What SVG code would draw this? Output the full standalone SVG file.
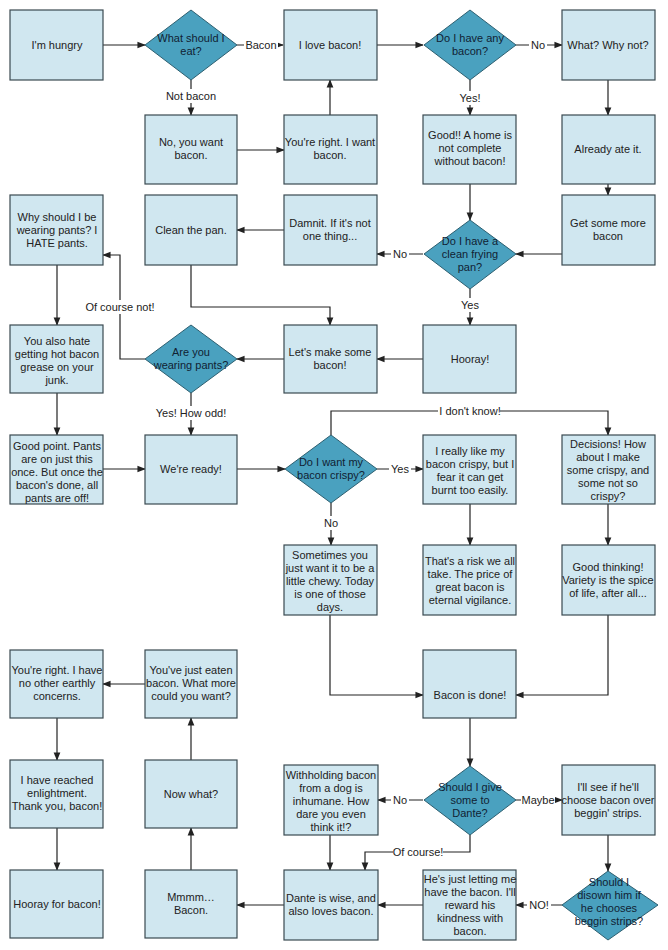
<svg xmlns="http://www.w3.org/2000/svg" width="668" height="950" viewBox="0 0 668 950">
<style>
.b{fill:#d0e7f0;stroke:#3a4a50;stroke-width:1.2}
.d{fill:#4aa1bf;stroke:#2d5f70;stroke-width:1}
text{font-family:"Liberation Sans",Arial,sans-serif;font-size:11px;fill:#222;text-anchor:middle}
.dt{fill:#123}
.c{fill:none;stroke:#222;stroke-width:1.2;marker-end:url(#a)}
.l{fill:#fff}
</style>
<defs><marker id="a" viewBox="0 0 10 10" refX="9" refY="5" markerWidth="7" markerHeight="7" orient="auto"><path d="M0,1 L10,5 L0,9 z" fill="#222"/></marker></defs>
<rect width="668" height="950" fill="#fff"/>
<g id="connectors">
<path class="c" d="M103,45H145"/>
<path class="c" d="M237,45H283"/>
<path class="c" d="M191,80V115"/>
<path class="c" d="M237,150H284"/>
<path class="c" d="M330,115V80"/>
<path class="c" d="M377,45H423"/>
<path class="c" d="M516,45H562"/>
<path class="c" d="M470,80V115"/>
<path class="c" d="M608,80V115"/>
<path class="c" d="M608,184V195"/>
<path class="c" d="M470,184V220"/>
<path class="c" d="M562,254H516"/>
<path class="c" d="M423,254H377"/>
<path class="c" d="M284,230H237"/>
<path class="c" d="M191,265V307H330V325"/>
<path class="c" d="M470,289V325"/>
<path class="c" d="M423,359H377"/>
<path class="c" d="M284,359H237"/>
<path class="c" d="M145,359H120V255H103"/>
<path class="c" d="M57,265V325"/>
<path class="c" d="M57,393V435"/>
<path class="c" d="M191,393V435"/>
<path class="c" d="M103,469H145"/>
<path class="c" d="M237,469H285"/>
<path class="c" d="M377,469H423"/>
<path class="c" d="M331,435V411H608V435"/>
<path class="c" d="M331,503V545"/>
<path class="c" d="M470,504V545"/>
<path class="c" d="M608,504V545"/>
<path class="c" d="M330,615V695H423"/>
<path class="c" d="M608,615V695H516"/>
<path class="c" d="M470,718V766"/>
<path class="c" d="M423,800H378"/>
<path class="c" d="M516,800H562"/>
<path class="c" d="M608,835V871"/>
<path class="c" d="M562,905H516"/>
<path class="c" d="M470,835V852H365V870"/>
<path class="c" d="M330,835V870"/>
<path class="c" d="M423,905H378"/>
<path class="c" d="M284,905H237"/>
<path class="c" d="M191,870V828"/>
<path class="c" d="M191,760V718"/>
<path class="c" d="M145,684H103"/>
<path class="c" d="M57,718V760"/>
<path class="c" d="M57,828V870"/>
<g>
<rect class="l" x="244" y="38" width="34" height="14"/><text x="261" y="49">Bacon</text>
<rect class="l" x="163" y="89" width="56" height="14"/><text x="191" y="100">Not bacon</text>
<rect class="l" x="529" y="38" width="18" height="14"/><text x="538" y="49">No</text>
<rect class="l" x="456" y="91" width="28" height="14"/><text x="470" y="102">Yes!</text>
<rect class="l" x="391" y="247" width="18" height="14"/><text x="400" y="258">No</text>
<rect class="l" x="459" y="298" width="22" height="14"/><text x="470" y="309">Yes</text>
<rect class="l" x="86" y="300" width="68" height="14"/><text x="120" y="311">Of course not!</text>
<rect class="l" x="155" y="406" width="72" height="14"/><text x="191" y="417">Yes! How odd!</text>
<rect class="l" x="438" y="404" width="62" height="14"/><text x="470" y="415">I don't know!</text>
<rect class="l" x="389" y="462" width="22" height="14"/><text x="400" y="473">Yes</text>
<rect class="l" x="321" y="516" width="20" height="14"/><text x="331" y="527">No</text>
<rect class="l" x="391" y="793" width="18" height="14"/><text x="400" y="804">No</text>
<rect class="l" x="521" y="793" width="34" height="14"/><text x="538" y="804">Maybe</text>
<rect class="l" x="393" y="845" width="50" height="14"/><text x="418" y="856">Of course!</text>
<rect class="l" x="527" y="898" width="24" height="14"/><text x="539" y="909">NO!</text>
</g>
</g>
<g id="n1"><rect class="b" x="10" y="10" width="93" height="70"/><text x="57" y="49">I'm hungry</text></g>
<g id="n2"><path class="d" d="M191,10L237,45L191,80L145,45Z"/><text class="dt" x="191" y="42">What should I</text><text class="dt" x="191" y="55">eat?</text></g>
<g id="n3"><rect class="b" x="284" y="10" width="93" height="70"/><text x="330" y="49">I love bacon!</text></g>
<g id="n4"><path class="d" d="M470,10L516,45L470,80L424,45Z"/><text class="dt" x="470" y="42">Do I have any</text><text class="dt" x="470" y="55">bacon?</text></g>
<g id="n5"><rect class="b" x="562" y="10" width="93" height="70"/><text x="608" y="49">What? Why not?</text></g>
<g id="n6"><rect class="b" x="145" y="115" width="92" height="69"/><text x="191" y="146">No, you want</text><text x="191" y="159">bacon.</text></g>
<g id="n7"><rect class="b" x="284" y="115" width="93" height="69"/><text x="330" y="146">You're right. I want</text><text x="330" y="159">bacon.</text></g>
<g id="n8"><rect class="b" x="423" y="115" width="93" height="69"/><text x="470" y="139">Good!! A home is</text><text x="470" y="152">not complete</text><text x="470" y="165">without bacon!</text></g>
<g id="n9"><rect class="b" x="562" y="115" width="93" height="69"/><text x="608" y="153">Already ate it.</text></g>
<g id="n10"><rect class="b" x="10" y="195" width="93" height="70"/><text x="57" y="221">Why should I be</text><text x="57" y="234">wearing pants? I</text><text x="57" y="247">HATE pants.</text></g>
<g id="n11"><rect class="b" x="145" y="195" width="92" height="70"/><text x="191" y="234">Clean the pan.</text></g>
<g id="n12"><rect class="b" x="284" y="195" width="93" height="70"/><text x="330" y="227">Damnit. If it's not</text><text x="330" y="240">one thing...</text></g>
<g id="n13"><path class="d" d="M470,220L516,254L470,289L424,254Z"/><text class="dt" x="470" y="245">Do I have a</text><text class="dt" x="470" y="258">clean frying</text><text class="dt" x="470" y="271">pan?</text></g>
<g id="n14"><rect class="b" x="562" y="195" width="93" height="70"/><text x="608" y="227">Get some more</text><text x="608" y="240">bacon</text></g>
<g id="n15"><rect class="b" x="10" y="325" width="93" height="68"/><text x="57" y="345">You also hate</text><text x="57" y="358">getting hot bacon</text><text x="57" y="371">grease on your</text><text x="57" y="384">junk.</text></g>
<g id="n16"><path class="d" d="M191,325L237,359L191,393L145,359Z"/><text class="dt" x="191" y="356">Are you</text><text class="dt" x="191" y="369">wearing pants?</text></g>
<g id="n17"><rect class="b" x="284" y="325" width="93" height="68"/><text x="330" y="356">Let's make some</text><text x="330" y="369">bacon!</text></g>
<g id="n18"><rect class="b" x="423" y="325" width="93" height="68"/><text x="470" y="363">Hooray!</text></g>
<g id="n19"><rect class="b" x="10" y="435" width="93" height="69"/><text x="57" y="450">Good point. Pants</text><text x="57" y="463">are on just this</text><text x="57" y="476">once. But once the</text><text x="57" y="489">bacon's done, all</text><text x="57" y="502">pants are off!</text></g>
<g id="n20"><rect class="b" x="145" y="435" width="92" height="69"/><text x="191" y="473">We're ready!</text></g>
<g id="n21"><path class="d" d="M331,435L377,469L331,503L285,469Z"/><text class="dt" x="331" y="466">Do I want my</text><text class="dt" x="331" y="479">bacon crispy?</text></g>
<g id="n22"><rect class="b" x="423" y="435" width="93" height="69"/><text x="470" y="455">I really like my</text><text x="470" y="468">bacon crispy, but I</text><text x="470" y="481">fear it can get</text><text x="470" y="494">burnt too easily.</text></g>
<g id="n23"><rect class="b" x="562" y="435" width="93" height="69"/><text x="608" y="448">Decisions! How</text><text x="608" y="461">about I make</text><text x="608" y="474">some crispy, and</text><text x="608" y="487">some not so</text><text x="608" y="500">crispy?</text></g>
<g id="n24"><rect class="b" x="284" y="545" width="93" height="70"/><text x="330" y="559">Sometimes you</text><text x="330" y="572">just want it to be a</text><text x="330" y="585">little chewy. Today</text><text x="330" y="598">is one of those</text><text x="330" y="611">days.</text></g>
<g id="n25"><rect class="b" x="423" y="545" width="93" height="70"/><text x="470" y="565">That's a risk we all</text><text x="470" y="578">take. The price of</text><text x="470" y="591">great bacon is</text><text x="470" y="604">eternal vigilance.</text></g>
<g id="n26"><rect class="b" x="562" y="545" width="93" height="70"/><text x="608" y="571">Good thinking!</text><text x="608" y="584">Variety is the spice</text><text x="608" y="597">of life, after all...</text></g>
<g id="n27"><rect class="b" x="10" y="650" width="93" height="68"/><text x="57" y="674">You're right. I have</text><text x="57" y="687">no other earthly</text><text x="57" y="700">concerns.</text></g>
<g id="n28"><rect class="b" x="145" y="650" width="92" height="68"/><text x="191" y="674">You've just eaten</text><text x="191" y="687">bacon. What more</text><text x="191" y="700">could you want?</text></g>
<g id="n29"><rect class="b" x="423" y="650" width="93" height="68"/><text x="470" y="699">Bacon is done!</text></g>
<g id="n30"><rect class="b" x="10" y="760" width="93" height="68"/><text x="57" y="784">I have reached</text><text x="57" y="797">enlightment.</text><text x="57" y="810">Thank you, bacon!</text></g>
<g id="n31"><rect class="b" x="145" y="760" width="92" height="68"/><text x="191" y="798">Now what?</text></g>
<g id="n32"><rect class="b" x="284" y="765" width="94" height="70"/><text x="331" y="779">Withholding bacon</text><text x="331" y="792">from a dog is</text><text x="331" y="805">inhumane. How</text><text x="331" y="818">dare you even</text><text x="331" y="831">think it!?</text></g>
<g id="n33"><path class="d" d="M470,766L516,800L470,835L424,800Z"/><text class="dt" x="470" y="791">Should I give</text><text class="dt" x="470" y="804">some to</text><text class="dt" x="470" y="817">Dante?</text></g>
<g id="n34"><rect class="b" x="562" y="765" width="93" height="70"/><text x="608" y="791">I'll see if he'll</text><text x="608" y="804">choose bacon over</text><text x="608" y="817">beggin' strips.</text></g>
<g id="n35"><rect class="b" x="10" y="870" width="93" height="68"/><text x="57" y="908">Hooray for bacon!</text></g>
<g id="n36"><rect class="b" x="145" y="870" width="92" height="68"/><text x="191" y="901">Mmmm…</text><text x="191" y="914">Bacon.</text></g>
<g id="n37"><rect class="b" x="284" y="870" width="94" height="70"/><text x="331" y="902">Dante is wise, and</text><text x="331" y="915">also loves bacon.</text></g>
<g id="n38"><rect class="b" x="423" y="870" width="93" height="70"/><text x="470" y="883">He's just letting me</text><text x="470" y="896">have the bacon. I'll</text><text x="470" y="909">reward his</text><text x="470" y="922">kindness with</text><text x="470" y="935">bacon.</text></g>
<g id="n39"><path class="d" d="M608,871L658,905L608,940L562,905Z"/><text class="dt" x="609" y="886">Should I</text><text class="dt" x="609" y="899">disown him if</text><text class="dt" x="609" y="912">he chooses</text><text class="dt" x="609" y="925">beggin strips?</text></g>
</svg>
